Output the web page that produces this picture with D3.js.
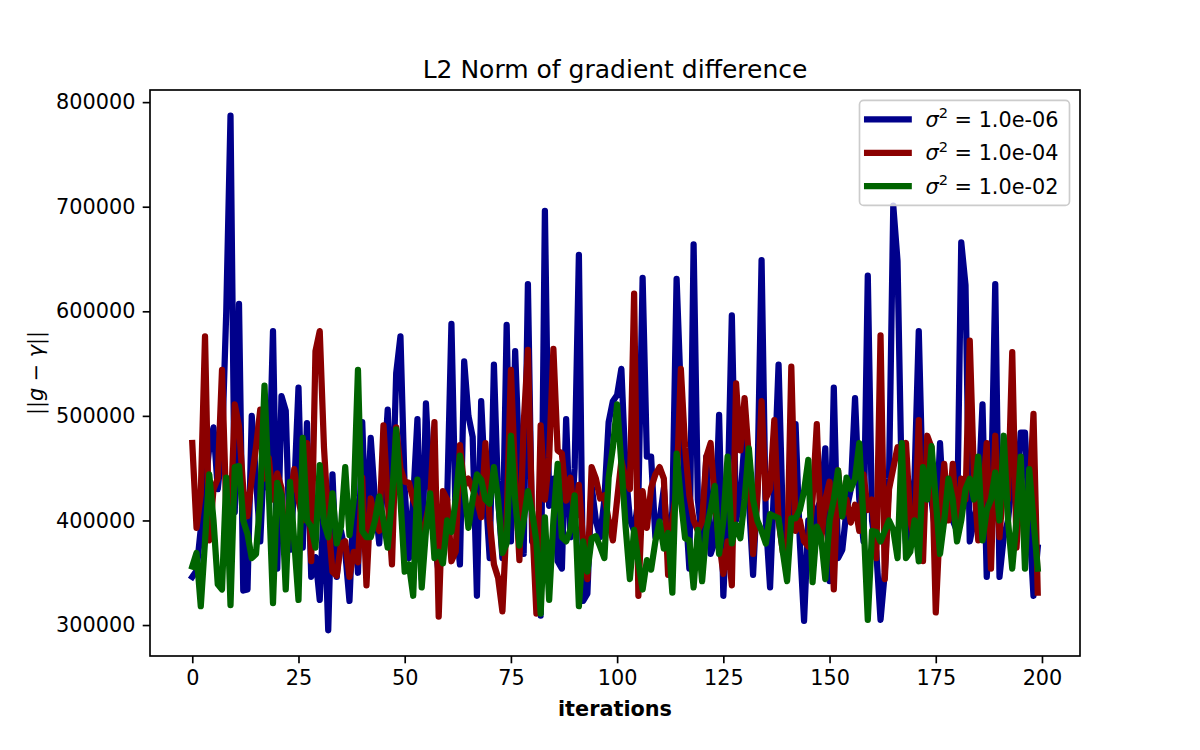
<!DOCTYPE html>
<html>
<head>
<meta charset="utf-8">
<script src="https://cdn.jsdelivr.net/npm/d3@7"></script>
<style>
  body { margin: 0; background: #fff; }
  svg text { font-family: "DejaVu Sans", sans-serif; fill: #000; }
</style>
</head>
<body>
<svg width="1200" height="750"></svg>
<script>
// sigma^2 of each run, and the colours used for them
var variances = ["1.0e-06", "1.0e-04", "1.0e-02"];
var colors = ["#00008b", "#8b0000", "#006400"];

var xTicks = [0, 25, 50, 75, 100, 125, 150, 175, 200];
var yTicks = [300000, 400000, 500000, 600000, 700000, 800000];

// ||g - gamma|| per iteration
var norm_1e06 = [
  346000, 352000, 392000, 430000, 470000, 489000, 430000, 470000, 600000, 787000, 408000, 607000, 333000, 334000, 500000, 440000, 380000, 470000, 430000, 581000,
  354000, 519000, 505000, 372000, 430000, 527000, 374000, 493000, 346000, 365000, 324000, 420000, 295000, 444000, 346000, 390000, 370000, 323000, 420000, 350000,
  494000, 380000, 479000, 420000, 378000, 440000, 506000, 400000, 541000, 576000, 430000, 364000, 420000, 497000, 344000, 512000, 430000, 380000, 350000, 400000,
  420000, 588000, 400000, 358000, 552000, 500000, 480000, 328000, 514000, 430000, 364000, 549000, 420000, 364000, 587000, 380000, 562000, 450000, 368000, 626000,
  380000, 400000, 309000, 696000, 414000, 440000, 361000, 354000, 497000, 384000, 450000, 654000, 323000, 330000, 433000, 400000, 384000, 420000, 494000, 514000,
  520000, 545000, 448000, 401000, 390000, 420000, 632000, 461000, 461000, 384000, 400000, 431000, 370000, 409000, 631000, 520000, 420000, 354000, 664000, 420000,
  380000, 461000, 368000, 380000, 501000, 328000, 420000, 596000, 400000, 420000, 477000, 420000, 348000, 430000, 649000, 400000, 336000, 440000, 549000, 400000,
  380000, 420000, 492000, 380000, 304000, 400000, 380000, 410000, 420000, 469000, 342000, 527000, 364000, 372000, 410000, 430000, 517000, 420000, 380000, 634000,
  400000, 370000, 305000, 350000, 440000, 701000, 648000, 430000, 378000, 410000, 440000, 581000, 420000, 430000, 420000, 385000, 474000, 400000, 410000, 400000,
  390000, 666000, 625000, 380000, 400000, 420000, 511000, 346000, 420000, 626000, 346000, 384000, 400000, 440000, 420000, 484000, 484000, 400000, 328000, 374000
];
var norm_1e04 = [
  474000, 393000, 425000, 576000, 381000, 430000, 440000, 544000, 410000, 400000, 511000, 490000, 430000, 404000, 440000, 470000, 506000, 440000, 460000, 420000,
  445000, 431000, 360000, 420000, 449000, 420000, 400000, 474000, 361000, 562000, 581000, 470000, 400000, 351000, 347000, 378000, 380000, 346000, 370000, 360000,
  441000, 338000, 421000, 400000, 390000, 491000, 420000, 358000, 489000, 450000, 437000, 436000, 420000, 410000, 380000, 400000, 420000, 494000, 308000, 428000,
  420000, 361000, 370000, 472000, 433000, 440000, 430000, 420000, 403000, 474000, 400000, 358000, 345000, 313000, 400000, 544000, 440000, 362000, 492000, 563000,
  400000, 311000, 491000, 420000, 460000, 564000, 467000, 464000, 419000, 441000, 400000, 434000, 380000, 344000, 451000, 440000, 421000, 424000, 400000, 381000,
  420000, 457000, 440000, 430000, 617000, 328000, 428000, 393000, 431000, 444000, 451000, 440000, 348000, 400000, 430000, 545000, 470000, 424000, 400000, 390000,
  399000, 461000, 474000, 418000, 380000, 349000, 380000, 338000, 531000, 467000, 517000, 461000, 368000, 420000, 514000, 421000, 430000, 496000, 400000, 370000,
  360000, 547000, 390000, 400000, 380000, 375000, 420000, 492000, 380000, 420000, 437000, 334000, 448000, 404000, 420000, 398000, 415000, 390000, 444000, 410000,
  420000, 364000, 577000, 344000, 430000, 450000, 470000, 460000, 474000, 400000, 380000, 496000, 361000, 481000, 470000, 312000, 400000, 454000, 400000, 454000,
  390000, 440000, 420000, 572000, 440000, 381000, 420000, 474000, 354000, 481000, 384000, 440000, 420000, 561000, 374000, 440000, 400000, 420000, 502000, 331000
];
var norm_1e02 = [
  356000, 369000, 318000, 380000, 444000, 400000, 339000, 334000, 441000, 319000, 451000, 452000, 400000, 387000, 364000, 368000, 420000, 529000, 430000, 321000,
  436000, 424000, 334000, 437000, 380000, 324000, 479000, 400000, 394000, 374000, 453000, 398000, 384000, 426000, 378000, 394000, 451000, 386000, 420000, 544000,
  390000, 384000, 384000, 400000, 423000, 400000, 374000, 420000, 487000, 420000, 351000, 358000, 328000, 439000, 336000, 390000, 426000, 364000, 370000, 359000,
  400000, 389000, 420000, 462000, 430000, 393000, 420000, 444000, 439000, 420000, 416000, 451000, 420000, 369000, 378000, 481000, 420000, 376000, 400000, 428000,
  408000, 380000, 311000, 403000, 324000, 400000, 454000, 384000, 380000, 391000, 424000, 318000, 380000, 351000, 383000, 385000, 375000, 364000, 441000, 470000,
  511000, 454000, 394000, 344000, 391000, 360000, 334000, 362000, 353000, 380000, 399000, 373000, 388000, 331000, 464000, 420000, 383000, 381000, 336000, 391000,
  342000, 391000, 410000, 433000, 368000, 400000, 461000, 378000, 396000, 383000, 420000, 469000, 420000, 400000, 390000, 378000, 406000, 404000, 402000, 370000,
  342000, 402000, 402000, 410000, 428000, 458000, 341000, 394000, 384000, 344000, 400000, 420000, 448000, 404000, 441000, 430000, 440000, 474000, 400000, 305000,
  390000, 389000, 380000, 390000, 400000, 391000, 364000, 474000, 364000, 370000, 400000, 361000, 451000, 420000, 471000, 420000, 368000, 400000, 440000, 420000,
  380000, 400000, 430000, 440000, 420000, 461000, 381000, 410000, 420000, 446000, 400000, 481000, 400000, 354000, 400000, 461000, 354000, 449000, 400000, 354000
];

var series = [norm_1e06, norm_1e04, norm_1e02];

var svg = d3.select("svg");
// axes box, in pixels
var plotLeft = 150, plotRight = 1080, plotTop = 90, plotBottom = 656;

// same 5% margins matplotlib puts round the data
var n = norm_1e06.length;
var xPad = 0.05 * (n - 1);
var x = d3.scaleLinear().domain([-xPad, n - 1 + xPad]).range([plotLeft, plotRight]);

var lo = d3.min(series, function(s) { return d3.min(s); });
var hi = d3.max(series, function(s) { return d3.max(s); });
var yPad = 0.05 * (hi - lo);
var y = d3.scaleLinear().domain([lo - yPad, hi + yPad]).range([plotBottom, plotTop]);

svg.append("clipPath").attr("id", "plotArea")
  .append("rect")
  .attr("x", plotLeft).attr("y", plotTop)
  .attr("width", plotRight - plotLeft).attr("height", plotBottom - plotTop);

var line = d3.line()
  .x(function(d, i) { return x(i); })
  .y(function(d) { return y(d); });

svg.append("g")
  .attr("clip-path", "url(#plotArea)")
  .selectAll("path")
  .data(series)
  .enter().append("path")
  .attr("d", line)
  .attr("fill", "none")
  .attr("stroke", function(d, i) { return colors[i]; })
  .attr("stroke-width", 6.25)
  .attr("stroke-linecap", "square")
  .attr("stroke-linejoin", "round");

// axes
var xAxis = svg.append("g")
  .attr("transform", "translate(0," + plotBottom + ")")
  .call(d3.axisBottom(x).tickValues(xTicks).tickSize(7.3).tickPadding(7.3));
var yAxis = svg.append("g")
  .attr("transform", "translate(" + plotLeft + ",0)")
  .call(d3.axisLeft(y).tickValues(yTicks).tickSize(7.3).tickPadding(7.3).tickFormat(d3.format("d")));

[xAxis, yAxis].forEach(function(g) {
  g.select(".domain").remove();
  g.selectAll(".tick line").attr("stroke", "#000").attr("stroke-width", 1.67);
  g.selectAll(".tick text")
    .style("font-family", "'DejaVu Sans', sans-serif")
    .style("font-size", "20.8px")
    .attr("fill", "#000");
});

svg.append("rect")
  .attr("x", plotLeft).attr("y", plotTop)
  .attr("width", plotRight - plotLeft).attr("height", plotBottom - plotTop)
  .attr("fill", "none")
  .attr("stroke", "#000")
  .attr("stroke-width", 1.67);

// title and labels
svg.append("text")
  .attr("x", (plotLeft + plotRight) / 2).attr("y", 77.5)
  .attr("text-anchor", "middle")
  .style("font-size", "25px")
  .text("L2 Norm of gradient difference");

svg.append("text")
  .attr("x", (plotLeft + plotRight) / 2).attr("y", 716)
  .attr("text-anchor", "middle")
  .style("font-size", "20.8px")
  .style("font-weight", "bold")
  .text("iterations");

var ylab = svg.append("text")
  .attr("transform", "translate(43," + (plotTop + plotBottom) / 2 + ") rotate(-90)")
  .attr("text-anchor", "middle")
  .style("font-size", "20.8px");
ylab.append("tspan").text("||");
ylab.append("tspan").style("font-style", "italic").text("g");
ylab.append("tspan").text(" \u2212 ");
ylab.append("tspan").style("font-style", "italic").text("\u03b3");
ylab.append("tspan").text("||");

// legend
var legend = svg.append("g").attr("transform", "translate(859.5,100.4)");
legend.append("rect")
  .attr("width", 210).attr("height", 105)
  .attr("rx", 4.2).attr("ry", 4.2)
  .attr("fill", "#fff").attr("fill-opacity", 0.8)
  .attr("stroke", "#cccccc").attr("stroke-width", 1.67);

var rows = legend.selectAll(".entry")
  .data(variances)
  .enter().append("g")
  .attr("class", "entry")
  .attr("transform", function(d, i) { return "translate(0," + (19 + i * 33.4) + ")"; });

rows.append("line")
  .attr("x1", 7.6).attr("x2", 49.2)
  .attr("stroke", function(d, i) { return colors[i]; })
  .attr("stroke-width", 6.25)
  .attr("stroke-linecap", "square");

var label = rows.append("text")
  .attr("x", 66)
  .attr("y", 7.5)
  .style("font-size", "20.8px");
label.append("tspan").style("font-style", "italic").text("\u03c3");
label.append("tspan").attr("dy", -8.5).style("font-size", "14.6px").text("2");
label.append("tspan").attr("dy", 8.5).text(function(d) { return " = " + d; });
</script>
</body>
</html>
